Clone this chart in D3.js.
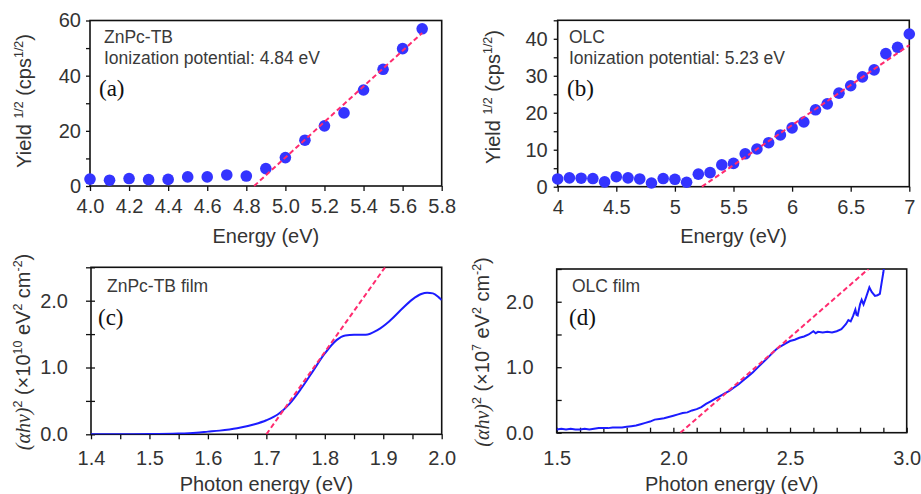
<!DOCTYPE html>
<html><head><meta charset="utf-8">
<script src="https://cdn.jsdelivr.net/npm/d3@7"></script>
<style>body{margin:0;background:#fff}</style>
</head><body>
<svg id="chart" width="921" height="494"></svg>
<script>
// ---- Panel (a): ZnPc-TB photoelectron yield ----
const energyA = [4.0,4.1,4.2,4.3,4.4,4.5,4.6,4.7,4.8,4.9,5.0,5.1,5.2,5.3,5.4,5.5,5.6,5.7];
const yieldA  = [2.5,2.1,2.7,2.3,2.4,3.3,3.3,4.0,3.6,6.3,10.3,16.6,21.8,26.5,34.8,42.3,49.8,57.0];
const fitAx = [4.84, 5.70];
const fitAy = [0, 55.5];
const ticksAx = [4.0,4.2,4.4,4.6,4.8,5.0,5.2,5.4,5.6,5.8];
const ticksAy = [0,20,40,60];
const minorAy = [10,30,50];

// ---- Panel (b): OLC photoelectron yield ----
const energyB = [4.0,4.1,4.2,4.3,4.4,4.5,4.6,4.7,4.8,4.9,5.0,5.1,5.2,5.3,5.4,5.5,5.6,5.7,5.8,5.9,6.0,6.1,6.2,6.3,6.4,6.5,6.6,6.7,6.8,6.9,7.0];
const yieldB  = [2.1,2.4,2.3,2.2,1.3,2.7,2.4,2.1,1.0,2.2,2.0,1.2,3.4,3.8,5.9,6.3,8.9,10.2,11.9,14.0,15.9,17.5,20.8,22.4,25.3,27.3,29.7,31.6,36.0,37.7,41.3];
const fitBx = [5.23, 7.0];
const fitBy = [0, 38.3];
const ticksBx = [4,4.5,5,5.5,6,6.5,7];
const ticksBy = [0,10,20,30,40];
const minorBy = [5,15,25,35,45];

// ---- Panel (c): ZnPc-TB film Tauc plot ----
const photonC = [1.40,1.45,1.50,1.55,1.58,1.60,1.62,1.65,1.68,1.70,1.72,1.74,1.76,1.78,1.80,1.82,1.835,1.85,1.87,1.89,1.91,1.93,1.95,1.965,1.975,1.985,1.995,2.00];
const taucC   = [0.000,0.001,0.003,0.012,0.025,0.040,0.055,0.09,0.15,0.21,0.30,0.46,0.69,0.95,1.21,1.41,1.48,1.49,1.49,1.56,1.69,1.86,2.02,2.10,2.12,2.11,2.05,2.01];
const fitCx = [1.70, 1.903];
const fitCy = [0, 2.5];
const ticksCx = [1.4,1.5,1.6,1.7,1.8,1.9,2.0];
const minorCx = [1.45,1.55,1.65,1.75,1.85,1.95];
const ticksCy = [0,1,2];
const minorCy = [0.5,1.5,2.5];

// ---- Panel (d): OLC film Tauc plot ----
const photonD = [1.50,1.52,1.54,1.56,1.58,1.60,1.62,1.64,1.66,1.68,1.70,1.72,1.74,1.76,1.78,1.80,1.82,1.84,1.86,1.88,1.90,1.92,1.94,1.96,1.98,2.00,2.02,2.04,2.06,2.08,2.10,2.12,2.14,2.16,2.18,2.20,2.22,2.24,2.26,2.28,2.30,2.32,2.34,2.36,2.38,2.40,2.42,2.44,2.46,2.48,2.50,2.52,2.54,2.56,2.58,2.60,2.61,2.62,2.64,2.66,2.68,2.70,2.72,2.73,2.74,2.75,2.76,2.77,2.78,2.785,2.79,2.80,2.807,2.815,2.825,2.84,2.85,2.864,2.875,2.885,2.893,2.90,2.905];
const taucD   = [0.05,0.06,0.05,0.06,0.05,0.05,0.06,0.05,0.06,0.07,0.07,0.07,0.08,0.08,0.08,0.09,0.10,0.11,0.13,0.15,0.17,0.20,0.21,0.22,0.24,0.26,0.28,0.30,0.31,0.34,0.36,0.39,0.44,0.48,0.52,0.56,0.60,0.64,0.69,0.74,0.80,0.86,0.92,0.99,1.06,1.13,1.20,1.27,1.32,1.36,1.40,1.42,1.45,1.47,1.50,1.55,1.52,1.54,1.53,1.54,1.53,1.55,1.58,1.62,1.66,1.72,1.70,1.78,1.88,1.80,1.79,1.96,2.03,1.96,2.06,2.22,2.15,2.09,2.10,2.12,2.30,2.45,2.60];
const fitDx = [2.03, 2.836];
const fitDy = [0, 2.5];
const ticksDx = [1.5,2.0,2.5,3.0];
const minorDx = [1.6,1.7,1.8,1.9,2.1,2.2,2.3,2.4,2.6,2.7,2.8,2.9];
const ticksDy = [0,1,2];
const minorDy = [0.5,1.5,2.5];

const svg = d3.select("#chart");
const SANS = "Arial, 'Liberation Sans', Helvetica, sans-serif";
const SERIF = "'Times New Roman', 'Liberation Serif', serif";
const TXT = "#333";
const DOT = "#3434ff";
const CURVE = "#1c1cff";
const FIT = "#ff2b6f";

function richText(g, segs, size) {
  let shifted = 0;
  segs.forEach(s => {
    const ts = g.append("tspan").text(s.t);
    let dy = 0;
    if (s.sup && shifted === 0) { dy = -size * 0.42; shifted = 1; }
    else if (!s.sup && shifted === 1) { dy = size * 0.42; shifted = 0; }
    if (dy) ts.attr("dy", dy);
    ts.attr("font-size", s.sup ? size * 0.62 : size);
    if (s.serif) ts.attr("font-family", SERIF).attr("font-style", "italic");
  });
}

function panel(c) {
  const x = d3.scaleLinear().domain(c.xd).range([c.l, c.r]);
  const y = d3.scaleLinear().domain(c.yd).range([c.b, c.t]);
  const g = svg.append("g");
  const clipId = "clip" + c.id;
  svg.append("clipPath").attr("id", clipId).append("rect")
    .attr("x", c.l).attr("y", c.t).attr("width", c.r - c.l).attr("height", c.b - c.t);

  // minor ticks
  const xMinor = d3.axisBottom(x).tickValues(c.xMinor || []).tickSize(c.xTick).tickFormat("");
  g.append("g").attr("transform", `translate(0,${c.b})`).call(xMinor).call(s => s.select(".domain").remove());
  const yMinor = d3.axisLeft(y).tickValues(c.yMinor || []).tickSize(c.yTick).tickFormat("");
  g.append("g").attr("transform", `translate(${c.l},0)`).call(yMinor).call(s => s.select(".domain").remove());
  if (c.yCross) {
    const yIn = d3.axisLeft(y).tickValues((c.yMinor || []).concat(c.yMajor)).tickSize(-c.yCross).tickFormat("");
    g.append("g").attr("transform", `translate(${c.l},0)`).call(yIn).call(s => s.select(".domain").remove());
  }

  // major axes
  const xAxis = d3.axisBottom(x).tickValues(c.xMajor).tickSizeInner(c.xTick).tickSizeOuter(0)
    .tickPadding(c.xPad).tickFormat(c.xFmt);
  const gx = g.append("g").attr("transform", `translate(0,${c.b})`).call(xAxis);
  gx.select(".domain").remove();
  gx.selectAll("text").attr("font-size", 20).attr("font-family", SANS).attr("fill", TXT);

  const yAxis = d3.axisLeft(y).tickValues(c.yMajor).tickSizeInner(c.yTick).tickSizeOuter(0)
    .tickPadding(c.yPad).tickFormat(c.yFmt);
  const gy = g.append("g").attr("transform", `translate(${c.l},0)`).call(yAxis);
  gy.select(".domain").remove();
  gy.selectAll("text").attr("font-size", 20).attr("font-family", SANS).attr("fill", TXT);
  g.selectAll(".tick line").attr("stroke", "#111").attr("stroke-width", 1.3);

  // box
  g.append("rect").attr("x", c.l).attr("y", c.t).attr("width", c.r - c.l).attr("height", c.b - c.t)
    .attr("fill", "none").attr("stroke", "#111").attr("stroke-width", 1.6);

  // data
  const plot = g.append("g").attr("clip-path", `url(#${clipId})`);
  const pts = c.xs.map((v, i) => [v, c.ys[i]]);
  if (c.kind === "dots") {
    g.append("g").selectAll("circle").data(pts).join("circle")
      .attr("cx", d => x(d[0])).attr("cy", d => y(d[1])).attr("r", 5.8).attr("fill", DOT);
  } else {
    plot.append("path").datum(pts)
      .attr("d", d3.line().x(d => x(d[0])).y(d => y(d[1])).curve(c.curve))
      .attr("fill", "none").attr("stroke", CURVE).attr("stroke-width", 2);
  }
  // fit line
  const fitG = c.kind === "dots" ? g : plot;
  fitG.append("path").datum(c.fx.map((v, i) => [v, c.fy[i]]))
    .attr("d", d3.line().x(d => x(d[0])).y(d => y(d[1])))
    .attr("fill", "none").attr("stroke", FIT).attr("stroke-width", 2).attr("stroke-dasharray", "5,3");

  // annotations
  c.notes.forEach(n => {
    g.append("text").attr("x", n.x).attr("y", n.y).text(n.t)
      .attr("font-family", n.serif ? SERIF : SANS).attr("font-size", n.size).attr("fill", n.serif ? "#111" : "#3a3a3a");
  });

  // x title
  g.append("text").attr("x", (c.l + c.r) / 2).attr("y", c.xtY).attr("text-anchor", "middle")
    .attr("font-family", SANS).attr("font-size", 20).attr("fill", TXT).text(c.xTitle);
  // y title
  const yt = g.append("text").attr("transform", `translate(${c.ytX},${c.ytY}) rotate(-90)`)
    .attr("text-anchor", "middle").attr("font-family", SANS).attr("fill", TXT).attr("font-size", 20);
  richText(yt, c.yTitle, 20);
}

const f1 = d3.format(".1f");
const yieldTitle = [{t:"Yield "},{t:"1/2",sup:true},{t:" (cps"},{t:"1/2",sup:true},{t:")"}];

panel({id:"a", kind:"dots", l:90, r:441.7, t:20.5, b:186, xd:[4.0,5.8], yd:[0,60],
  xs:energyA, ys:yieldA, fx:fitAx, fy:fitAy,
  xMajor:ticksAx, xTick:5, xPad:8, xFmt:f1,
  yMajor:ticksAy, yMinor:minorAy, yTick:4, yPad:5, yFmt:d3.format("d"),
  xTitle:"Energy (eV)", xtY:243, ytX:31, ytY:101, yTitle:yieldTitle,
  notes:[{x:104,y:43,t:"ZnPc-TB",size:17.5},{x:104,y:63.5,t:"Ionization potential: 4.84 eV",size:17.5},{x:99,y:96,t:"(a)",size:23,serif:true}]
});

panel({id:"b", kind:"dots", l:557.7, r:909.3, t:20.3, b:186.7, xd:[4,7], yd:[0,45],
  xs:energyB, ys:yieldB, fx:fitBx, fy:fitBy,
  xMajor:ticksBx, xTick:5, xPad:8, xFmt:d3.format(""),
  yMajor:ticksBy, yMinor:minorBy, yTick:4, yPad:6, yFmt:d3.format("d"),
  xTitle:"Energy (eV)", xtY:243, ytX:500, ytY:97, yTitle:yieldTitle,
  notes:[{x:569,y:43,t:"OLC",size:17.5},{x:569,y:63.5,t:"Ionization potential: 5.23 eV",size:17.5},{x:567,y:96,t:"(b)",size:23,serif:true}]
});

panel({id:"c", kind:"line", curve:d3.curveMonotoneX, l:91, r:441.7, t:267.3, b:434.3, xd:[1.4,2.0], yd:[0,2.5],
  xs:photonC, ys:taucC, fx:fitCx, fy:fitCy,
  xMajor:ticksCx, xMinor:minorCx, xTick:5, xPad:12, xFmt:f1,
  yMajor:ticksCy, yMinor:minorCy, yTick:5, yCross:4, yPad:18, yFmt:f1,
  xTitle:"Photon energy (eV)", xtY:491, ytX:30, ytY:352,
  yTitle:[{t:"(",serif:true},{t:"αhν",serif:true},{t:")",serif:true},{t:"2",sup:true},{t:"  (×10"},{t:"10",sup:true},{t:" eV"},{t:"2",sup:true},{t:" cm"},{t:"-2",sup:true},{t:")"}],
  notes:[{x:107,y:292,t:"ZnPc-TB film",size:17.5},{x:98,y:325,t:"(c)",size:23,serif:true}]
});

panel({id:"d", kind:"line", curve:d3.curveLinear, l:556.7, r:906.7, t:269, b:432.7, xd:[1.5,3.0], yd:[0,2.5],
  xs:photonD, ys:taucD, fx:fitDx, fy:fitDy,
  xMajor:ticksDx, xMinor:minorDx, xTick:-5, xPad:18, xFmt:f1,
  yMajor:ticksDy, yMinor:minorDy, yTick:-5, yPad:23, yFmt:f1,
  xTitle:"Photon energy (eV)", xtY:491, ytX:489, ytY:352,
  yTitle:[{t:"(",serif:true},{t:"αhν",serif:true},{t:")",serif:true},{t:"2",sup:true},{t:"  (×10"},{t:"7",sup:true},{t:" eV"},{t:"2",sup:true},{t:" cm"},{t:"-2",sup:true},{t:")"}],
  notes:[{x:572,y:292,t:"OLC film",size:17.5},{x:569,y:325,t:"(d)",size:23,serif:true}]
});
</script>
</body></html>
